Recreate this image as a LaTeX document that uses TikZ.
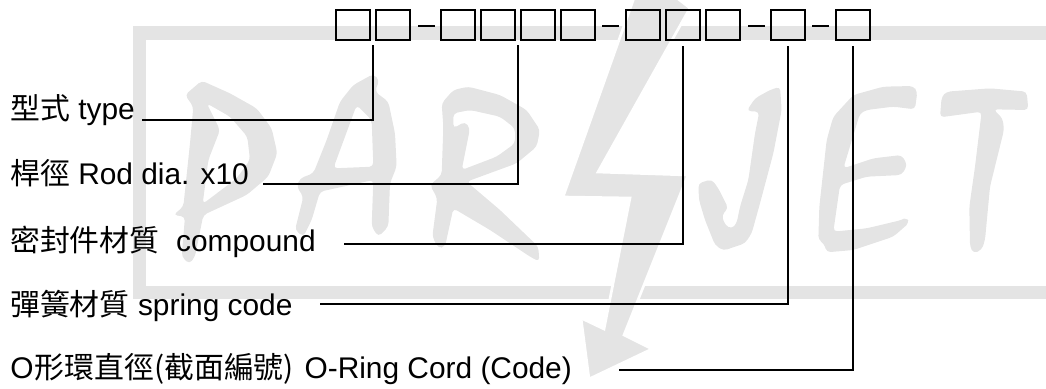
\documentclass[tikz,border=0pt]{standalone}
\usepackage{fontspec}
\setmainfont{Liberation Sans}
\newfontfamily\cjk{Noto Sans CJK TC}
\usetikzlibrary{calc}
\definecolor{markgray}{RGB}{228,228,228}
\tikzset{
    codebox/.style={draw,line width=1.5pt,minimum width=25pt,minimum height=22pt,inner sep=0pt},
    codedash/.style={line width=1.1pt},
    leader/.style={line width=0.8pt},
    label/.style={anchor=base west,inner sep=0pt,font=\fontsize{22.4}{26}\selectfont},
    markletter/.style={x=0.25pt,y=-0.25pt,even odd rule,rounded corners=3pt}
}
\begin{document}
\begin{tikzpicture}[x=0.75pt,y=-0.75pt]
    \useasboundingbox (0,0) rectangle (1046,389);
    % watermark
    \clip (0,0) rectangle (1046,389);
    \fill[markgray] (133,26) rectangle (1046,40);
    \fill[markgray] (133,286) rectangle (1046,299);
    \fill[markgray] (133,26) rectangle (146,299);
    \begin{scope}[shift={(140,60)},markletter]
        \fill[markgray] (135,105) -- (185,62) -- (270,100) -- (350,145) -- (395,205) -- (412,280) -- (385,350) -- (320,405) -- (190,465) -- (165,590) -- (148,612) -- (125,590) -- (135,470) -- (100,465) -- (130,440) -- (150,250) -- (160,140) -- cycle
            (200,130) -- (270,170) -- (322,230) -- (330,300) -- (290,355) -- (188,432) -- (205,300) -- (240,210) -- cycle;
        \fill[markgray] (700,42) -- (718,60) -- (705,95) -- (745,125) -- (765,220) -- (770,320) -- (750,370) -- (745,500) -- (715,530) -- (695,500) -- (700,360) -- (540,395) -- (515,480) -- (490,530) -- (465,510) -- (490,410) -- (470,380) -- (480,355) -- (520,340) -- (560,240) -- (600,125) -- (640,75) -- cycle
            (650,135) -- (580,325) -- (700,320) -- (695,180) -- cycle;
    \end{scope}
    \begin{scope}[shift={(400,60)},markletter]
        \fill[markgray] (125,130) -- (160,90) -- (205,80) -- (300,105) -- (380,150) -- (420,210) -- (410,260) -- (350,310) -- (200,365) -- (300,450) -- (415,560) -- (418,605) -- (390,590) -- (270,510) -- (160,445) -- (135,560) -- (115,565) -- (97,530) -- (112,415) -- (90,375) -- (125,345) -- (130,200) -- cycle
            (160,160) -- (210,150) -- (300,170) -- (345,205) -- (345,250) -- (290,290) -- (185,330) -- (210,205) -- (195,185) -- (160,205) -- cycle;
    \end{scope}
    \begin{scope}[shift={(680,60)},markletter]
        \fill[markgray] (300,80) -- (305,150) -- (280,280) -- (240,430) -- (215,520) -- (195,550) -- (130,572) -- (105,555) -- (75,480) -- (57,420) -- (55,370) -- (95,358) -- (115,385) -- (145,445) -- (125,465) -- (135,495) -- (155,507) -- (170,490) -- (180,440) -- (205,360) -- (225,220) -- (238,155) -- (200,153) -- (225,115) -- (270,90) -- cycle;
        \fill[markgray] (520,105) -- (610,80) -- (700,78) -- (712,95) -- (705,148) -- (640,140) -- (560,150) -- (540,160) -- (490,325) -- (580,295) -- (665,285) -- (682,315) -- (665,345) -- (560,350) -- (480,375) -- (460,515) -- (560,505) -- (665,480) -- (680,472) -- (688,488) -- (640,530) -- (520,570) -- (440,577) -- (432,550) -- (415,540) -- (418,440) -- (440,240) -- (460,170) -- cycle;
        \fill[markgray] (785,110) -- (800,95) -- (930,85) -- (1040,95) -- (1045,150) -- (940,148) -- (968,175) -- (972,210) -- (930,380) -- (915,540) -- (905,570) -- (880,580) -- (870,560) -- (868,440) -- (885,320) -- (905,155) -- (780,172) -- cycle;
    \end{scope}
    \filldraw[fill=markgray,draw=white,line width=2pt] (635,-5) -- (673,-5) -- (690,8) -- (598,172) -- (688,175) -- (624,335) -- (652,349) -- (589,379) -- (581,318) -- (604,329) -- (630,198) -- (563,197) -- cycle;
    % code boxes
    \foreach \name/\xpos in {a/353,b/393,c/458,d/498,e/538,f/578,g/643,h/683,i/723,j/788,k/853} {
        \node[codebox] (\name) at (\xpos,25) {};
    }
    \draw[codedash] (418,26) -- (435,26);
    \draw[codedash] (602,26) -- (619,26);
    \draw[codedash] (748,26) -- (765,26);
    \draw[codedash] (812,26) -- (829,26);
    % labels
    \node[label] (type) at (10,119) {{\cjk 型式} type};
    \node[label] (rod) at (10,184) {{\cjk 桿徑} Rod dia. x10};
    \node[label] (comp) at (10,251) {{\cjk 密封件材質}\ \ compound};
    \node[label] (spring) at (10,315) {{\cjk 彈簧材質} spring code};
    \node[label] (oring) at (10,378) {O\hspace{1pt}{\cjk 形環直徑(截面編號)}\hspace{8pt}O-Ring Cord (Code)};
    % leaders
    \coordinate (t1) at (142,120);
    \coordinate (t2) at (263,184);
    \coordinate (t3) at (344,244);
    \coordinate (t4) at (320,304);
    \coordinate (t5) at (619,370);
    \draw[leader] (t1) -| ([yshift=-3pt]$(a.south)!0.5!(b.south)$);
    \draw[leader] (t2) -| ([yshift=-3pt]$(d.south)!0.5!(e.south)$);
    \draw[leader] (t3) -| ([yshift=-4pt]h.south);
    \draw[leader] (t4) -| ([yshift=-4pt]j.south);
    \draw[leader] (t5) -| ([yshift=-4pt]k.south);
\end{tikzpicture}
\end{document}
